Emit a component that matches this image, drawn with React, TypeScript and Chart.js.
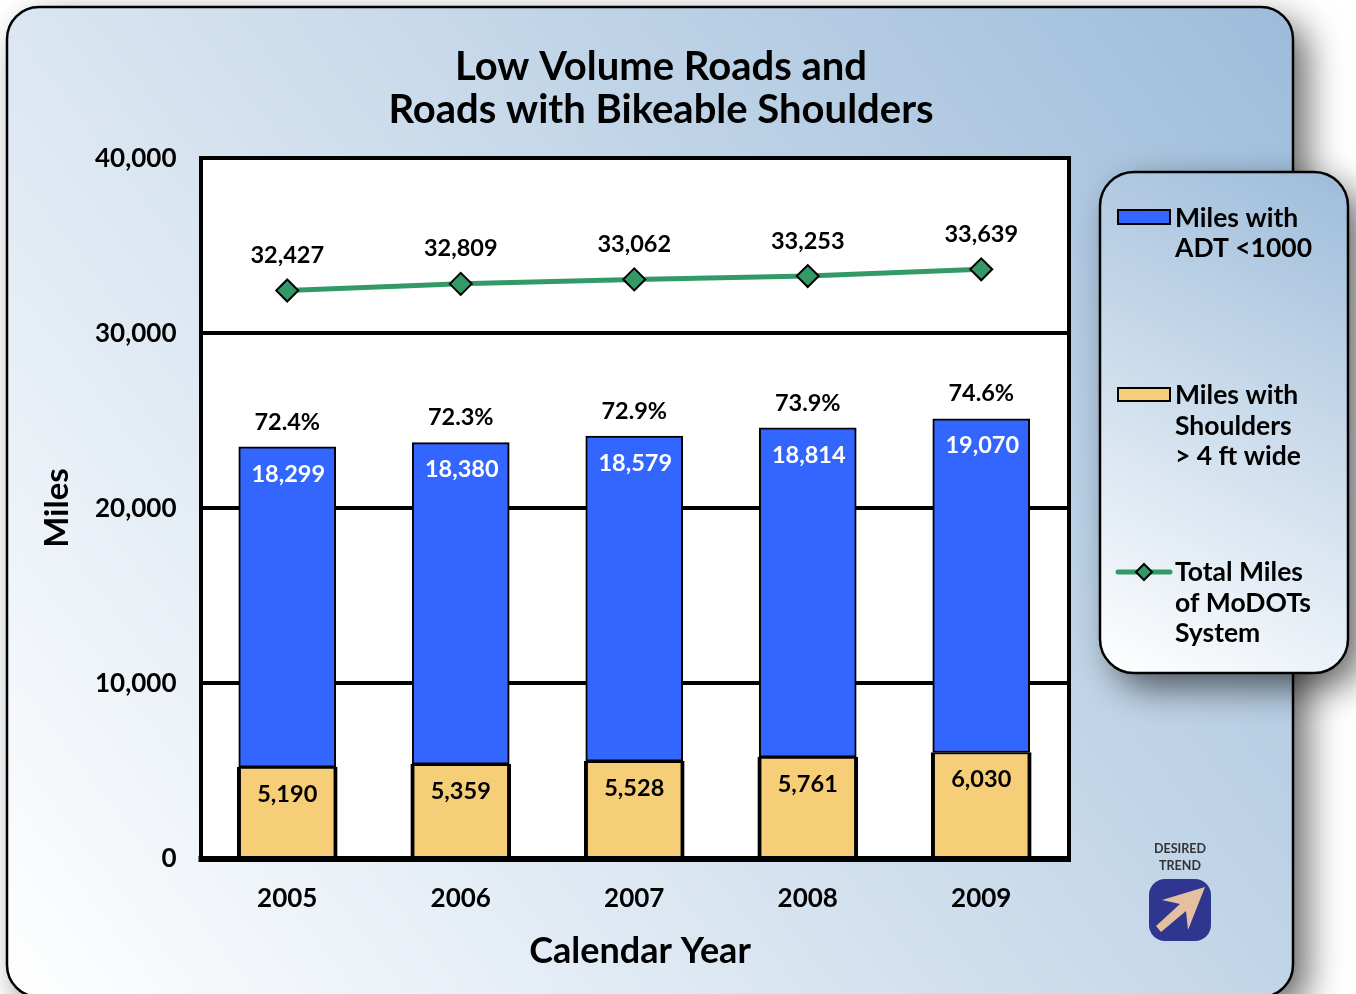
import React, { useEffect, useRef } from "react";
import { Chart, registerables } from "chart.js";

Chart.register(...registerables);

const years = ["2005", "2006", "2007", "2008", "2009"];
const adtMiles = [18299, 18380, 18579, 18814, 19070];
const shoulderMiles = [5190, 5359, 5528, 5761, 6030];
const totalMiles = [32427, 32809, 33062, 33253, 33639];
const percentLabels = ["72.4%", "72.3%", "72.9%", "73.9%", "74.6%"];
const titleLines = ["Low Volume Roads and", "Roads with Bikeable Shoulders"];
const adtLegend = ["Miles with", "ADT <1000"];
const shoulderLegend = ["Miles with", "Shoulders", "> 4 ft wide"];
const totalLegend = ["Total Miles", "of MoDOTs", "System"];
const trendLines = ["DESIRED", "TREND"];

const BLUE = "#3366FF";
const GOLD = "#F6CE78";
const GREEN = "#339966";
const FONT = "Lato";

function roundedPanel(ctx: CanvasRenderingContext2D, x: number, y: number, w: number, h: number, r: number) {
  const g = ctx.createLinearGradient(x, y + h, x + w, y);
  g.addColorStop(0, "#FFFFFF");
  g.addColorStop(1, "#9DBCDA");
  ctx.save();
  ctx.shadowColor = "rgba(0,0,0,0.6)";
  ctx.shadowBlur = 36;
  ctx.shadowOffsetX = 14;
  ctx.shadowOffsetY = 14;
  ctx.beginPath();
  ctx.roundRect(x, y, w, h, r);
  ctx.fillStyle = g;
  ctx.fill();
  ctx.restore();
  ctx.beginPath();
  ctx.roundRect(x, y, w, h, r);
  ctx.lineWidth = 2.5;
  ctx.strokeStyle = "#000";
  ctx.stroke();
}

function multiline(ctx: CanvasRenderingContext2D, lines: string[], x: number, y: number, lh: number) {
  lines.forEach((t, i) => ctx.fillText(t, x, y + i * lh));
}

const chromePlugin = {
  id: "chrome",
  afterLayout(chart: any) {
    // Centre the title block where the reference has it
    const tb = chart.titleBlock;
    tb.left = 0;
    tb.right = 1322;
    tb.width = 1322;
    tb.top = 2;
  },
  beforeDraw(chart: any) {
    const { ctx, chartArea: a } = chart;
    ctx.save();
    roundedPanel(ctx, 7, 7, 1286, 990, 32);
    roundedPanel(ctx, 1100, 172, 248, 501, 34);
    ctx.fillStyle = "#FFFFFF";
    ctx.fillRect(a.left, a.top, a.right - a.left, a.bottom - a.top);

    // Legend
    ctx.fillStyle = BLUE;
    ctx.strokeStyle = "#000";
    ctx.lineWidth = 2;
    ctx.fillRect(1118, 210, 52, 14);
    ctx.strokeRect(1118, 210, 52, 14);
    ctx.fillStyle = GOLD;
    ctx.fillRect(1118, 388, 52, 13);
    ctx.strokeRect(1118, 388, 52, 13);
    ctx.strokeStyle = GREEN;
    ctx.lineWidth = 5;
    ctx.lineCap = "round";
    ctx.beginPath();
    ctx.moveTo(1118, 572);
    ctx.lineTo(1170, 572);
    ctx.stroke();
    ctx.lineCap = "butt";
    ctx.fillStyle = GREEN;
    ctx.strokeStyle = "#000";
    ctx.lineWidth = 2;
    ctx.beginPath();
    ctx.moveTo(1144, 564);
    ctx.lineTo(1152, 572);
    ctx.lineTo(1144, 580);
    ctx.lineTo(1136, 572);
    ctx.closePath();
    ctx.fill();
    ctx.stroke();

    ctx.fillStyle = "#000";
    ctx.font = `700 26.5px ${FONT}`;
    ctx.textAlign = "left";
    ctx.textBaseline = "middle";
    multiline(ctx, adtLegend, 1175, 218.5, 30);
    multiline(ctx, shoulderLegend, 1175, 395.5, 30.5);
    multiline(ctx, totalLegend, 1175, 572.5, 30.5);

    // Desired trend badge
    ctx.fillStyle = "#333";
    ctx.font = `700 12.5px ${FONT}`;
    ctx.textAlign = "center";
    multiline(ctx, trendLines, 1180, 849, 17);
    ctx.fillStyle = "#2F368F";
    ctx.beginPath();
    ctx.roundRect(1149, 879, 62, 62, 16);
    ctx.fill();
    ctx.fillStyle = "#E4BFA0";
    ctx.beginPath();
    ctx.moveTo(1205, 887);
    ctx.lineTo(1162, 900);
    ctx.lineTo(1180, 904);
    ctx.lineTo(1156, 926);
    ctx.lineTo(1161, 932);
    ctx.lineTo(1186, 911);
    ctx.lineTo(1188, 930);
    ctx.closePath();
    ctx.fill();
    ctx.restore();
  },
  afterDatasetsDraw(chart: any) {
    const { ctx, chartArea: a } = chart;
    ctx.save();
    ctx.strokeStyle = "#000";
    ctx.lineWidth = 4;
    ctx.beginPath();
    ctx.moveTo(a.right + 1, a.top - 2);
    ctx.lineTo(a.right + 1, a.bottom + 2);
    ctx.stroke();
    ctx.lineWidth = 6;
    ctx.beginPath();
    ctx.moveTo(a.left - 2, a.bottom + 1);
    ctx.lineTo(a.right + 3, a.bottom + 1);
    ctx.stroke();

    ctx.textAlign = "center";
    ctx.textBaseline = "middle";
    ctx.font = `700 23.5px ${FONT}`;
    const blue = chart.getDatasetMeta(0).data;
    const gold = chart.getDatasetMeta(1).data;
    const line = chart.getDatasetMeta(2).data;
    years.forEach((_, i) => {
      ctx.fillStyle = "#FFF";
      ctx.fillText(adtMiles[i].toLocaleString("en-US"), blue[i].x + 1, blue[i].y + 27);
      ctx.fillStyle = "#000";
      ctx.fillText(percentLabels[i], blue[i].x, blue[i].y - 25);
      ctx.fillText(shoulderMiles[i].toLocaleString("en-US"), gold[i].x, gold[i].y + 27);
      ctx.fillText(totalMiles[i].toLocaleString("en-US"), line[i].x, line[i].y - 35);
    });
    ctx.font = `700 36px ${FONT}`;
    ctx.fillText("Calendar Year", 640, 951);
    ctx.restore();
  },
};

export default function App() {
  const ref = useRef<HTMLCanvasElement>(null);
  useEffect(() => {
    document.body.style.margin = "0";
    document.body.style.background = "#fff";
    const chart = new Chart(ref.current!, {
      type: "bar",
      data: {
        labels: years,
        datasets: [
          {
            type: "bar",
            label: "Miles with ADT <1000",
            data: adtMiles,
            backgroundColor: BLUE,
            borderColor: "#000",
            borderWidth: 2,
            borderSkipped: false,
            barThickness: 97,
            order: 2,
          },
          {
            type: "bar",
            label: "Miles with Shoulders > 4 ft wide",
            data: shoulderMiles,
            backgroundColor: GOLD,
            borderColor: "#000",
            borderWidth: { top: 2, left: 4, right: 4, bottom: 4 },
            barThickness: 100,
            order: 1,
          },
          {
            type: "line",
            label: "Total Miles of MoDOTs System",
            data: totalMiles,
            borderColor: GREEN,
            borderWidth: 5,
            pointStyle: "rectRot",
            pointRadius: 11,
            pointBackgroundColor: GREEN,
            pointBorderColor: "#000",
            pointBorderWidth: 2,
            tension: 0,
            order: 0,
          },
        ],
      },
      options: {
        responsive: false,
        animation: false,
        layout: { padding: { left: 37.5, right: 288, top: 0, bottom: 0 } },
        plugins: {
          legend: { display: false },
          tooltip: { enabled: false },
          title: {
            display: true,
            text: titleLines,
            color: "#000",
            font: { family: FONT, size: 40, weight: "700", lineHeight: 1.075 },
            padding: { top: 44, bottom: 28 },
          },
        },
        scales: {
          x: {
            stacked: true,
            grid: { display: false },
            border: { display: false },
            ticks: {
              color: "#000",
              font: { family: FONT, size: 26, weight: "700" },
              padding: 17,
              maxRotation: 0,
            },
            afterFit: (s: any) => {
              s.height = 136;
            },
          },
          y: {
            stacked: true,
            min: 0,
            max: 40000,
            grid: { color: "#000", lineWidth: 4, drawTicks: false },
            border: { display: true, color: "#000", width: 4 },
            ticks: {
              stepSize: 10000,
              color: "#000",
              padding: 24,
              labelOffset: 1,
              font: { family: FONT, size: 26, weight: "700" },
              callback: (v: any) => Number(v).toLocaleString("en-US"),
            },
            title: {
              display: true,
              text: "Miles",
              color: "#000",
              font: { family: FONT, size: 33, weight: "700" },
              padding: 0,
            },
            afterFit: (s: any) => {
              s.width = 163;
            },
          },
        },
      },
      plugins: [chromePlugin],
    } as any);
    return () => chart.destroy();
  }, []);
  return (
    <canvas
      ref={ref}
      width={1356}
      height={994}
      style={{ position: "absolute", left: 0, top: 0, display: "block" }}
    />
  );
}
